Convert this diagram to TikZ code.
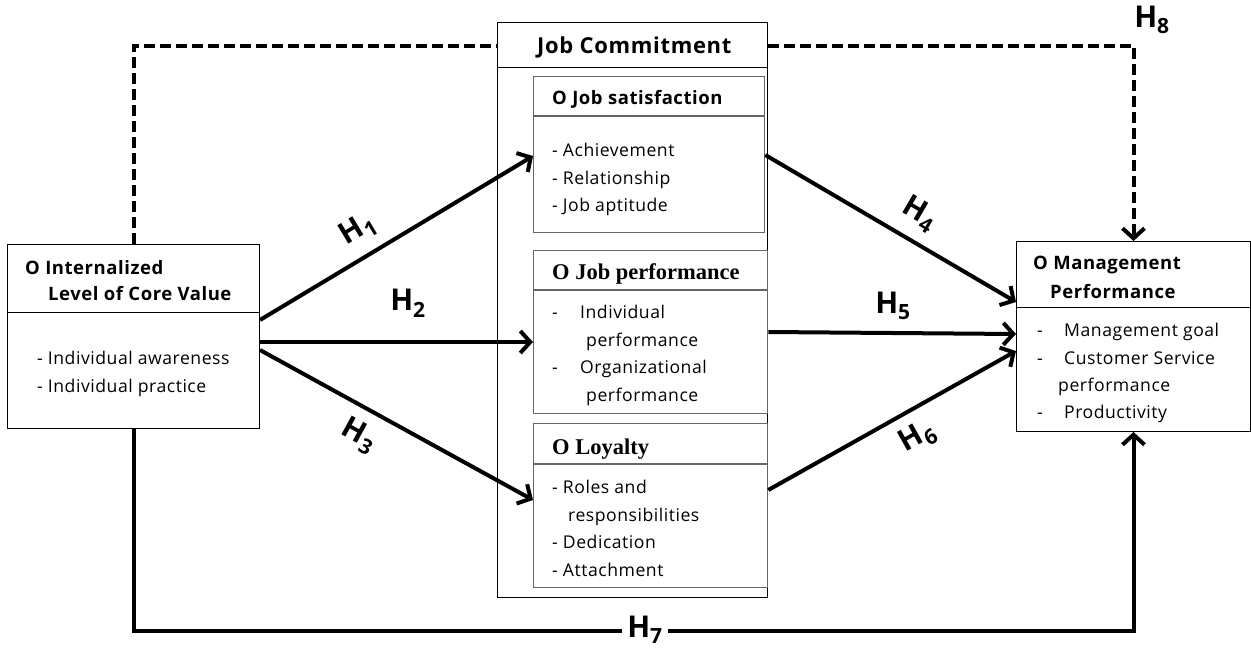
\documentclass[tikz,border=0pt]{standalone}
\usepackage{fontspec}
\setmainfont[LetterSpace=3]{Open Sans}
\newfontfamily\hdserif{Liberation Serif}
\newfontfamily\hlabfont{Open Sans}
\usetikzlibrary{arrows.meta,calc}
\pgfdeclarelayer{background}
\pgfsetlayers{background,main}
\newcommand{\tline}[4]{\node[txt] (#1) at (#2,#3) {#4};}
\tikzset{
  txt/.style={anchor=base west, inner sep=0pt, font=\fontsize{17.6}{20}\selectfont},
  hd/.style={txt, font=\fontsize{18.5}{20}\selectfont\bfseries},
  hdbig/.style={txt, font=\fontsize{22}{24}\selectfont\bfseries},
  hds/.style={txt, font=\fontsize{22.5}{24}\selectfont\hdserif\bfseries},
  outerbox/.style={draw=black, line width=1pt, fill=white, anchor=north west, inner sep=0pt},
  innerbox/.style={draw=black!60, line width=1.3pt, fill=white, anchor=north west, inner sep=0pt},
  divider/.style={draw=black!60, line width=1.1pt},
  tip/.style={-{Straight Barb[length=10pt, width=22pt, line width=4pt]}},
  conn/.style={line width=4pt, tip},
  hlab/.style={font=\fontsize{30}{30}\selectfont\hlabfont\bfseries, inner sep=6pt},
  slab/.style={hlab, sloped, inner sep=11pt},
}
\begin{document}
\begin{tikzpicture}[x=1pt, y=-1pt]
\useasboundingbox (0,0) rectangle (1251,648);
% boxes
\node[outerbox, minimum width=252pt, minimum height=184pt] (L) at (7,244) {};
\node[outerbox, minimum width=270pt, minimum height=575pt] (JC) at (497,22) {};
\node[innerbox, minimum width=231pt, minimum height=156pt] (JS) at (533,76) {};
\node[innerbox, minimum width=234pt, minimum height=163pt] (JP) at (533,250) {};
\node[innerbox, minimum width=234pt, minimum height=164pt] (LO) at (533,423) {};
\node[outerbox, minimum width=234pt, minimum height=190pt] (M) at (1016,241) {};
% dividers
\draw[line width=1pt] (7,312) -- (259,312);
\draw[line width=1pt] (497,67) -- (767,67);
\draw[divider] (533,116) -- (764,116);
\draw[divider] (533,290) -- (767,290);
\draw[divider] (533,464) -- (767,464);
\draw[line width=1pt] (1016,307) -- (1250,307);
% texts
\node[hd] (l1) at (25,274) {O Internalized};
\node[hd] (l2) at (48,300) {Level of Core Value};
\tline{l3}{37}{364}{- Individual awareness}
\tline{l4}{37}{392}{- Individual practice}
\node[hdbig] (jc) at (537,53) {Job Commitment};
\node[hd] (js0) at (552,104) {O Job satisfaction};
\tline{js1}{552}{156}{- Achievement}
\tline{js2}{552}{184}{- Relationship}
\tline{js3}{552}{211}{- Job aptitude}
\node[hds] (jp0) at (552,279) {O Job performance};
\tline{jp1}{552}{318}{-}
\tline{jp2}{580}{318}{Individual}
\tline{jp3}{586}{346}{performance}
\tline{jp4}{552}{373}{-}
\tline{jp5}{580}{373}{Organizational}
\tline{jp6}{586}{401}{performance}
\node[hds] (lo0) at (552,454) {O Loyalty};
\tline{lo1}{552}{493}{- Roles and}
\tline{lo2}{568}{521}{responsibilities}
\tline{lo3}{552}{548}{- Dedication}
\tline{lo4}{552}{576}{- Attachment}
\node[hd] (m1) at (1033,269) {O Management};
\node[hd] (m2) at (1050,298) {Performance};
\tline{m3}{1037}{336}{-}
\tline{m4}{1064}{336}{Management goal}
\tline{m5}{1037}{364}{-}
\tline{m6}{1064}{364}{Customer Service}
\tline{m7}{1058}{391}{performance}
\tline{m8}{1037}{418}{-}
\tline{m9}{1064}{418}{Productivity}
% dashed H8 behind Job Commitment
\begin{pgfonlayer}{background}
\draw[line width=4pt, dash pattern=on 11pt off 5pt, tip]
  (L.north) -- ++(0,-198) -| (M.north);
\end{pgfonlayer}
% solid connectors
\draw[conn] ($(L.north east)+(0,76)$) -- node[slab, above, pos=0.41] (h1) {H\textsubscript{1}} ($(JS.north west)+(0,80)$);
\draw[conn] ($(L.north east)+(0,98)$) -- ($(JP.north west)+(0,92)$);
\draw[conn] ($(L.north east)+(0,106)$) -- node[slab, below, pos=0.41] (h3) {H\textsubscript{3}} ($(LO.north west)+(0,77)$);
\draw[conn] ($(JS.north east)+(0,79)$) -- node[slab, above, pos=0.56] (h4) {H\textsubscript{4}} ($(M.north west)+(0,61)$);
\draw[conn] ($(JP.north east)+(0,82)$) -- ($(M.north west)+(0,93)$);
\draw[conn] ($(LO.north east)+(0,67)$) -- node[slab, below, pos=0.55] (h6) {H\textsubscript{6}} ($(M.north west)+(0,110)$);
\draw[line width=4pt, tip]
  (L.south) -- ++(0,202) -| (M.south);
\node[hlab] (h2) at (408,303) {H\textsubscript{2}};
\node[hlab] (h5) at (893,306) {H\textsubscript{5}};
\node[hlab, fill=white, inner xsep=5pt, inner ysep=1pt] (h7) at (645,630) {H\textsubscript{7}};
\node[hlab, inner sep=1pt] (h8) at (1152,20) {H\textsubscript{8}};
\end{tikzpicture}
\end{document}
